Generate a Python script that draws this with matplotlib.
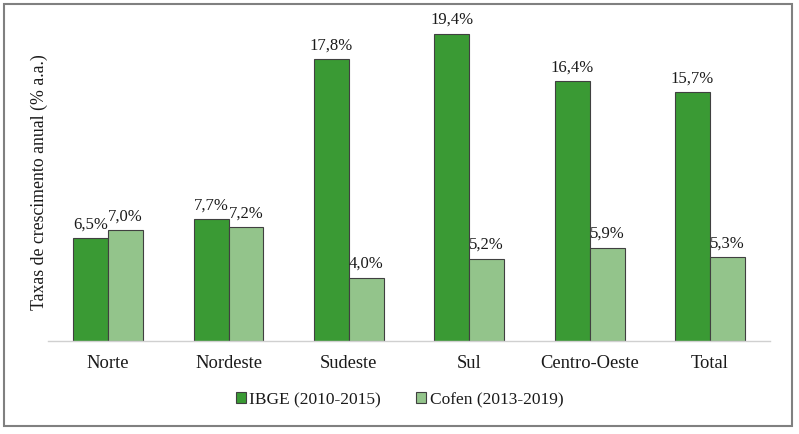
import matplotlib
matplotlib.use("Agg")
import matplotlib.pyplot as plt
import numpy as np
from matplotlib.patches import Rectangle

categories = ["Norte", "Nordeste", "Sudeste", "Sul", "Centro-Oeste", "Total"]
ibge = [6.5, 7.7, 17.8, 19.4, 16.4, 15.7]
cofen = [7.0, 7.2, 4.0, 5.2, 5.9, 5.3]
series_names = ["IBGE (2010-2015)", "Cofen (2013-2019)"]
ylabel = "Taxas de crescimento anual (% a.a.)"

plt.rcParams['font.family'] = ['Liberation Serif', 'DejaVu Serif']

fig = plt.figure(figsize=(7.99, 4.34), dpi=100)
ax = fig.add_axes([0.060, 0.2143, 0.904, 0.730])

x = np.arange(len(categories))
w = 0.29
c1 = "#3a9a34"
c2 = "#93c48b"
b1 = ax.bar(x - w/2, ibge, w, color=c1, edgecolor="#404040", linewidth=0.8, label=series_names[0])
b2 = ax.bar(x + w/2, cofen, w, color=c2, edgecolor="#404040", linewidth=0.8, label=series_names[1])

def fmt(v):
    return f"{v:.1f}%".replace(".", ",")

for bars, vals in ((b1, ibge), (b2, cofen)):
    for rect, v in zip(bars, vals):
        ax.annotate(fmt(v), (rect.get_x() + rect.get_width()/2, v),
                    xytext=(0, 4), textcoords="offset points",
                    ha="center", va="bottom", fontsize=12, color="#1a1a1a")

ax.set_xlim(-0.5, 5.5)
ax.set_ylim(0, 20.0)
ax.set_xticks(x)
ax.set_xticklabels(categories, fontsize=13.3, color="#1a1a1a")
ax.tick_params(axis="x", length=0, pad=10)
ax.set_yticks([])
for s in ("top", "right", "left"):
    ax.spines[s].set_visible(False)
ax.spines["bottom"].set_color("#d0d0d0")
ax.spines["bottom"].set_linewidth(1.0)
ax.set_ylabel(ylabel, fontsize=12.8, labelpad=0, color="#1a1a1a")

leg = fig.legend(handles=[b1, b2], labels=series_names, loc="center",
                 bbox_to_anchor=(0.5, 1 - 400/434), ncol=2, frameon=False,
                 fontsize=12.5, handlelength=0.6, handleheight=0.6,
                 handletextpad=0.2, columnspacing=2.0)
for t in leg.get_texts():
    t.set_color("#1a1a1a")

fig.patches.append(Rectangle((4/799, 1 - 426/434), 788/799, 422/434,
                             transform=fig.transFigure, fill=False,
                             edgecolor="#808080", linewidth=1.5))

fig.savefig("out.png", dpi=100)
